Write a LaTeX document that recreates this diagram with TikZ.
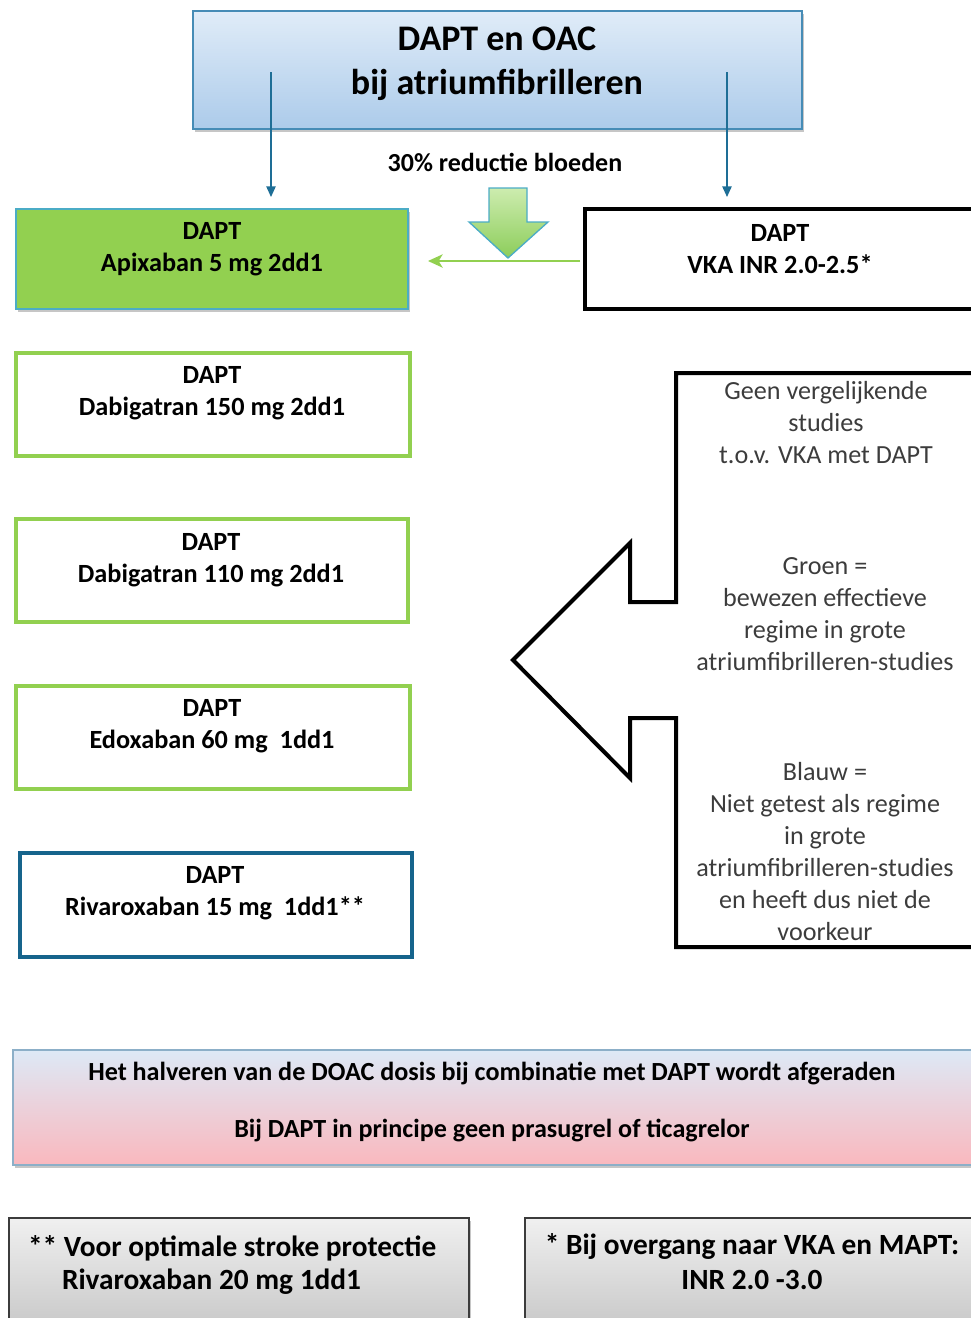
\documentclass[tikz,border=0pt]{standalone}
\usepackage{fontspec}
\setmainfont{Carlito}
\usetikzlibrary{shadows,arrows.meta,calc}
\definecolor{titleborder}{RGB}{70,140,182}
\definecolor{titletop}{RGB}{224,236,248}
\definecolor{titlebot}{RGB}{172,203,234}
\definecolor{arrowblue}{RGB}{30,110,150}
\definecolor{dgreen}{RGB}{146,208,80}
\definecolor{lblue}{RGB}{75,172,198}
\definecolor{rivablue}{RGB}{22,100,140}
\definecolor{pinktop}{RGB}{221,233,246}
\definecolor{pinkbot}{RGB}{250,184,190}
\definecolor{pinkborder}{RGB}{140,175,200}
\definecolor{graytop}{RGB}{240,240,240}
\definecolor{graybot}{RGB}{196,196,196}
\definecolor{grayborder}{RGB}{60,60,60}
\definecolor{txtgray}{RGB}{60,60,60}
\begin{document}
\begin{tikzpicture}[x=0.75pt,y=-0.75pt,
  every node/.style={inner sep=0pt,outer sep=0pt},
  shad/.style={drop shadow={shadow xshift=1.5pt,shadow yshift=-2.5pt,opacity=0.45,fill=gray}},
  boxtxt/.style={font=\bfseries\fontsize{19.7}{24}\selectfont,align=center,text=black},
  sidetxt/.style={font=\fontsize{19.6}{24}\selectfont,align=center,text=txtgray},
  greenbox/.style={draw=dgreen,line width=3pt,fill=white},
  tealarrow/.style={draw=arrowblue,line width=1.1pt,-{Triangle[width=7pt,length=8pt]}},
  pinktxt/.style={font=\bfseries\fontsize{19.6}{22}\selectfont,text=black},
  graytxt/.style={font=\bfseries\fontsize{22}{26}\selectfont,text=black},
  graybox/.style={draw=grayborder,line width=1.1pt,top color=graytop,bottom color=graybot,shad}
]
\useasboundingbox (0,0) rectangle (971,1318);
\clip (0,0) rectangle (971,1318);

% title
\node[draw=titleborder,line width=1.5pt,top color=titletop,bottom color=titlebot,shad,
  minimum width=456.75pt,minimum height=88.5pt] (title) at (497.5,70) {};
\node[font=\bfseries\fontsize{27}{33}\selectfont,align=center] (titlet) at (497,64) {DAPT en OAC\\bij atriumfibrilleren};

% reduction label
\node[fill=white,minimum width=242pt,minimum height=37.5pt,font=\bfseries\fontsize{19.5}{22}\selectfont] (red) at (505,162) {30\% reductie bloeden};

% apixaban box
\node[draw=lblue,line width=1.5pt,fill=dgreen,shad,minimum width=294pt,minimum height=75pt] (apix) at (212,259) {};
\node[boxtxt] (apixt) at (212,249) {DAPT\\Apixaban 5 mg 2dd1};

% VKA box
\node[draw=black,line width=3pt,fill=white,minimum width=311.25pt,minimum height=75pt] (vka) at (792.5,259) {};
\node[boxtxt] (vkat) at (780,249) {DAPT\\VKA INR 2.0-2.5*};

% arrows from title
\coordinate (tl) at (271,72);
\coordinate (tr) at (727,72);
\draw[tealarrow,shorten >=9pt] (tl) -- (tl |- apix.north);
\draw[tealarrow,shorten >=9pt] (tr) -- (tr |- vka.north);

% fat down arrow
\path[draw=lblue,line width=1pt,top color={rgb,255:red,205;green,236;blue,175},
  middle color={rgb,255:red,165;green,226;blue,236},bottom color={rgb,255:red,140;green,205;blue,90}]
  (489,188) -- (527,188) -- (527,222) -- (548,222) -- (508,258) -- (469,222) -- (489,222) -- cycle;

% green arrow
\draw[draw=dgreen,line width=1.1pt,-{Stealth[width=10pt,length=11pt,inset=3pt]},shorten <=3.75pt,shorten >=15pt]
  ($(vka.west)+(0,2)$) -- ($(apix.east)+(0,2)$);

% dabigatran etc.
\node[greenbox,minimum width=295.5pt,minimum height=77.25pt] (dab1) at (213,404.5) {};
\node[boxtxt] (dab1t) at (212,393) {DAPT\\Dabigatran 150 mg 2dd1};
\node[greenbox,minimum width=294pt,minimum height=77.25pt] (dab2) at (212,570.5) {};
\node[boxtxt] (dab2t) at (211,560) {DAPT\\Dabigatran 110 mg 2dd1};
\node[greenbox,minimum width=295.5pt,minimum height=77.25pt] (edox) at (213,737.5) {};
\node[boxtxt] (edoxt) at (212,726) {DAPT\\Edoxaban 60 mg~~1dd1};
\node[draw=rivablue,line width=3pt,fill=white,minimum width=294pt,minimum height=78pt] (riva) at (216,905) {};
\node[boxtxt] (rivat) at (215,893.5) {DAPT\\Rivaroxaban 15 mg~~1dd1**};

% big arrow shape
\draw[line width=3pt,miter limit=10]
  (1000,373) -- (676,373) -- (676,602) -- (630,602) -- (630,543) -- (513,660)
  -- (630,778) -- (630,718) -- (676,718) -- (676,947) -- (1000,947);
\node[sidetxt] (s1) at (826,423) {Geen vergelijkende\\studies\\t.o.v. VKA met DAPT};
\node[sidetxt] (s2) at (825,614) {Groen =\\bewezen effectieve\\regime in grote\\atriumfibrilleren-studies};
\node[sidetxt] (s3) at (825,852) {Blauw =\\Niet getest als regime\\in grote\\atriumfibrilleren-studies\\en heeft dus niet de\\voorkeur};

% pink box
\node[draw=pinkborder,line width=1pt,top color=pinktop,bottom color=pinkbot,shad,
  minimum width=740.25pt,minimum height=86.25pt] (pink) at (506.5,1107.5) {};
\node[pinktxt] (p1) at (492,1074) {Het halveren van de DOAC dosis bij combinatie met DAPT wordt afgeraden};
\node[pinktxt] (p2) at (492,1131) {Bij DAPT in principe geen prasugrel of ticagrelor};

% gray boxes
\node[graybox,minimum width=345pt,minimum height=91.5pt] (gl) at (239,1279) {};
\node[graytxt,anchor=west] (gl1) at (28,1248) {** Voor optimale stroke protectie};
\node[graytxt,anchor=west] (gl2) at (62,1282) {Rivaroxaban 20 mg 1dd1};
\node[graybox,minimum width=356.25pt,minimum height=91.5pt] (gr) at (762.5,1279) {};
\node[graytxt] (gr1) at (752,1246) {* Bij overgang naar VKA en MAPT:};
\node[graytxt] (gr2) at (752,1280) {INR 2.0 -3.0};
\end{tikzpicture}
\end{document}
